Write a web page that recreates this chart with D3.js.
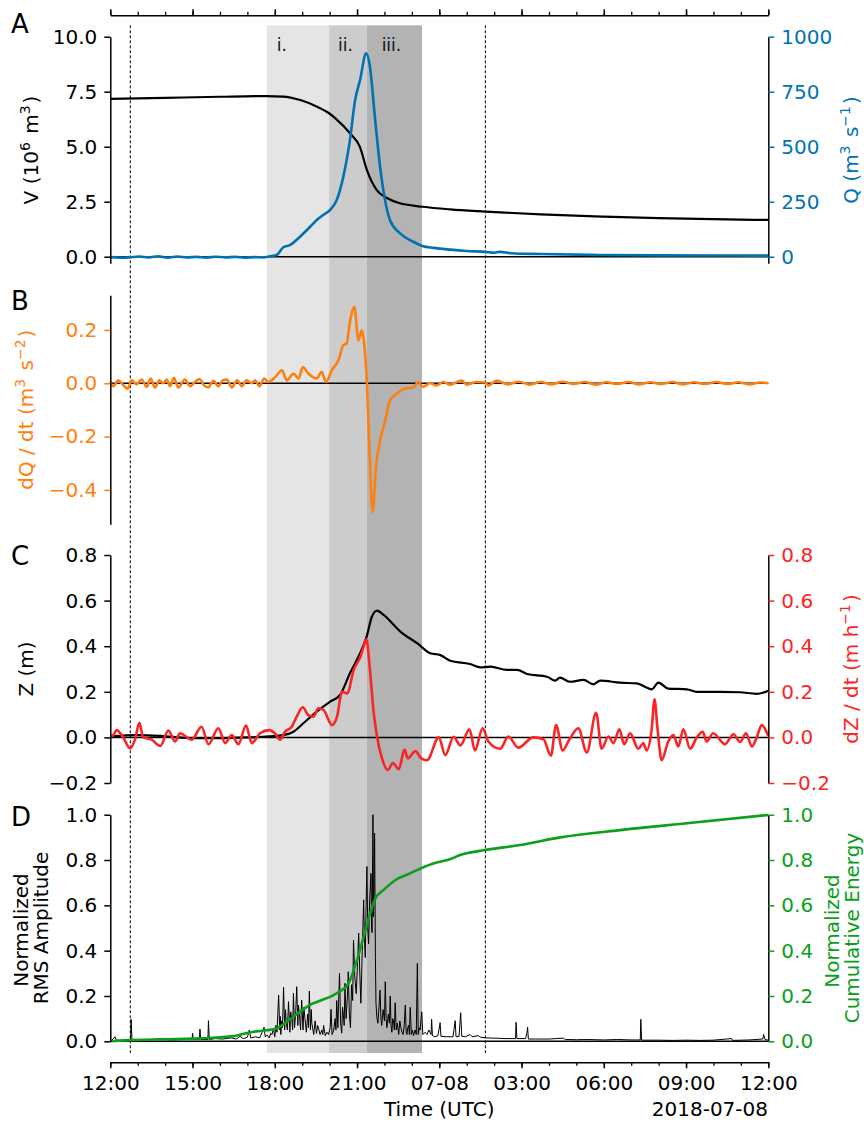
<!DOCTYPE html>
<html>
<head>
<meta charset="utf-8">
<script src="https://cdn.jsdelivr.net/npm/d3@7"></script>
<style>
  body { margin: 0; background: #fff; }
  svg { display: block; font-family: "DejaVu Sans", sans-serif; }
</style>
</head>
<body>
<script>
// hours after 2018-07-07 12:00 UTC, value
const volume = [[0,7.17],[2,7.22],[4,7.27],[5.7,7.3],[6.3,7.28],[6.93,7.12],[7.54,6.82],[7.98,6.52],[8.2,6.3],
  [8.75,5.6],[9.1,5.0],[9.36,3.94],[9.72,3.03],[10.09,2.67],[10.5,2.45],[11.4,2.27],[12.4,2.15],[13.7,2.05],
  [15.7,1.92],[18,1.82],[20,1.75],[24,1.67]];
const discharge = [[0,-2],[0.35,-4],[0.7,-3],[1.05,1],[1.4,-3],[1.75,2],[2.1,-4],[2.45,1],[2.8,-3],[3.15,-1],
  [3.5,-4],[3.85,0],[4.2,-3],[4.55,-1],[4.9,-4],[5.25,-2],[5.58,-3],[5.82,2],[6.07,8],[6.31,43],[6.55,53],
  [6.92,91],[7.29,136],[7.53,167],[7.77,190],[8.01,212],[8.26,258],[8.5,364],[8.74,530],[8.93,712],[9.11,803],
  [9.33,924],[9.47,864],[9.65,636],[9.84,409],[10.02,258],[10.2,167],[10.57,106],[11.05,68],[11.38,49],
  [11.79,40],[12.4,32],[13.0,26],[13.68,22],[14.0,18],[14.2,22],[14.6,16],[15.7,12],[17.8,8],[20,6],[24,5]];
const dQdt = [[0,0.004],[0.11,-0.011],[0.29,0.011],[0.45,-0.004],[0.63,-0.021],[0.78,0.011],[0.96,-0.004],
  [1.14,0.014],[1.33,-0.014],[1.47,0.018],[1.63,-0.016],[1.79,0.011],[1.93,0],[2.06,0.014],[2.18,-0.011],
  [2.32,0.021],[2.48,-0.016],[2.72,0.014],[2.91,-0.011],[3.09,0.005],[3.25,0.016],[3.42,-0.008],[3.57,-0.016],
  [3.76,0.009],[3.94,-0.011],[4.1,0.011],[4.25,0.014],[4.43,-0.016],[4.63,0.011],[4.79,-0.011],[4.97,0.011],
  [5.16,0],[5.28,0.011],[5.44,-0.011],[5.61,0.018],[5.76,0.005],[6.02,0.024],[6.26,0.049],[6.44,0.011],
  [6.68,0.036],[6.87,0.018],[7.02,0.061],[7.23,0.036],[7.53,0.018],[7.71,0.043],[7.87,0.005],[8.08,0.049],
  [8.32,0.086],[8.5,0.143],[8.62,0.149],[8.74,0.23],[8.9,0.286],[9.05,0.161],[9.17,0.199],[9.26,0.149],
  [9.36,0],[9.45,-0.239],[9.57,-0.483],[9.69,-0.314],[9.84,-0.214],[10.03,-0.139],[10.2,-0.064],[10.45,-0.039],
  [10.75,-0.02],[11.05,-0.016],[11.24,0.005],[11.4,-0.014],[11.66,0],[11.9,-0.008],[12.15,0.005],[12.39,-0.005],
  [12.63,0.004],[12.82,0.01],[13.0,-0.005],[13.36,0.005],[13.67,0.003],[13.79,-0.008],[14.09,0.01],[14.5,-0.004],
  [14.9,0.006],[15.3,-0.005],[15.7,0.005],[16.1,-0.004],[16.5,0.006],[16.9,-0.003],[17.3,0.005],[17.7,-0.005],
  [18.1,0.004],[18.5,-0.003],[18.9,0.005],[19.3,-0.004],[19.7,0.004],[20.1,-0.003],[20.5,0.005],[20.9,-0.004],
  [21.3,0.004],[21.7,-0.003],[22.1,0.005],[22.5,-0.003],[22.9,0.004],[23.3,-0.004],[23.7,0.003],[24,0]];
const stage = [[0,0.005],[1.0,0.01],[2.0,0.005],[3,-0.003],[4,-0.003],[5,0.0],[5.8,0.005],[6.3,0.01],
  [6.68,0.025],[7.04,0.062],[7.53,0.113],[8.02,0.157],[8.38,0.186],[8.74,0.281],[9.11,0.369],[9.35,0.442],
  [9.54,0.529],[9.73,0.556],[9.97,0.537],[10.58,0.464],[11.19,0.413],[11.67,0.369],[12.04,0.361],[12.4,0.336],
  [13.12,0.322],[13.5,0.307],[13.86,0.31],[14.47,0.296],[14.84,0.296],[15.2,0.278],[15.93,0.266],[16.23,0.249],
  [16.4,0.262],[16.77,0.244],[17.26,0.252],[17.62,0.233],[17.87,0.249],[18.6,0.24],[19.2,0.237],[19.75,0.211],
  [19.99,0.24],[20.35,0.214],[21.03,0.211],[21.39,0.2],[22.24,0.2],[22.97,0.198],[23.58,0.191],[24,0.205]];
const dZdt = [[0,0.005],[0.11,0.01],[0.23,0.032],[0.47,0],[0.72,-0.048],[0.9,-0.01],[1.06,0.064],[1.2,0],
  [1.51,-0.01],[1.82,-0.038],[2.12,0.03],[2.36,-0.018],[2.54,0.018],[2.97,-0.01],[3.33,0.047],[3.58,-0.03],
  [3.94,0.04],[4.19,-0.025],[4.43,0.01],[4.67,-0.03],[4.95,0.052],[5.16,-0.025],[5.46,0.018],[5.8,0.032],
  [6.0,0.018],[6.19,-0.01],[6.37,0.025],[6.62,0.047],[6.8,0.091],[7.02,0.132],[7.22,0.098],[7.41,0.091],
  [7.59,0.128],[7.78,0.12],[8.09,0.054],[8.27,0.091],[8.45,0.2],[8.64,0.193],[8.88,0.296],[9.12,0.354],
  [9.24,0.398],[9.34,0.43],[9.46,0.31],[9.61,0.105],[9.73,0.003],[9.91,-0.092],[10.12,-0.143],[10.31,-0.112],
  [10.52,-0.14],[10.73,-0.053],[10.85,-0.092],[11.13,-0.06],[11.34,-0.092],[11.55,-0.1],[11.98,0],[12.22,-0.078],
  [12.52,0.003],[12.77,-0.035],[13.1,0.036],[13.3,-0.057],[13.58,0.04],[13.79,-0.018],[14.22,-0.05],[14.52,0.004],
  [14.88,-0.045],[15.43,0],[15.8,-0.008],[16.07,-0.08],[16.26,0.054],[16.5,-0.057],[16.74,-0.01],[17.07,0.04],
  [17.38,-0.066],[17.72,0.108],[17.92,-0.05],[18.17,0.004],[18.35,-0.025],[18.57,0.036],[18.74,-0.03],
  [18.96,0.018],[19.26,-0.05],[19.44,-0.025],[19.56,-0.057],[19.75,0.04],[19.85,0.167],[19.95,0.05],
  [20.11,-0.1],[20.35,-0.018],[20.54,0.01],[20.72,-0.04],[20.9,0.036],[21.15,-0.05],[21.39,0],[21.61,0.025],
  [21.75,-0.018],[21.99,0.018],[22.42,-0.03],[22.73,0.014],[22.97,-0.02],[23.19,0.018],[23.4,-0.04],[23.58,0],
  [23.76,0.054],[24,0.006]];
const rmsAmp = [[0,0],[0.1,0.01],[0.17,0.02],[0.22,0.005],[0.5,0.005],[0.74,0.005],[0.76,0.097],[0.79,0.005],
  [1.2,0.005],[1.76,0.01],[2.2,0.006],[2.6,0.008],[2.98,0.008],[3.0,0.035],[3.03,0.008],[3.25,0.008],[3.27,0.054],
  [3.3,0.008],[3.56,0.008],[3.58,0.091],[3.61,0.008],[3.82,0.012],[4.1,0.01],[4.4,0.015],[4.6,0.01],[4.73,0.022],
  [4.85,0.012],[5.0,0.018],[5.07,0.05],[5.12,0.015],[5.3,0.02],[5.45,0.015],[5.61,0.062],[5.65,0.02],[5.71,0.028],
  [5.8,0.015],[5.85,0.035],[5.9,0.03],[5.95,0.057],[6.0,0.02],[6.04,0.07],[6.08,0.04],[6.11,0.12],[6.14,0.204],
  [6.18,0.05],[6.2,0.11],[6.22,0.03],[6.25,0.09],[6.28,0.06],[6.32,0.238],[6.36,0.05],[6.39,0.14],[6.42,0.08],
  [6.46,0.05],[6.5,0.175],[6.55,0.04],[6.58,0.13],[6.62,0.1],[6.65,0.05],[6.68,0.212],[6.72,0.06],[6.76,0.12],
  [6.8,0.241],[6.84,0.07],[6.86,0.16],[6.89,0.13],[6.94,0.05],[6.98,0.182],[7.03,0.05],[7.06,0.15],[7.1,0.1],
  [7.15,0.04],[7.2,0.12],[7.23,0.06],[7.26,0.222],[7.3,0.05],[7.33,0.14],[7.35,0.08],[7.42,0.03],[7.47,0.09],
  [7.52,0.035],[7.56,0.07],[7.59,0.06],[7.65,0.03],[7.72,0.05],[7.75,0.03],[7.78,0.07],[7.84,0.025],[7.9,0.04],
  [7.96,0.03],[8.02,0.06],[8.05,0.141],[8.09,0.03],[8.15,0.05],[8.2,0.1],[8.23,0.05],[8.26,0.18],[8.3,0.06],
  [8.36,0.3],[8.4,0.08],[8.44,0.036],[8.47,0.15],[8.5,0.12],[8.53,0.07],[8.56,0.256],[8.6,0.1],[8.65,0.2],
  [8.68,0.307],[8.72,0.12],[8.76,0.06],[8.8,0.25],[8.84,0.18],[8.87,0.447],[8.92,0.28],[8.97,0.21],[9.02,0.35],
  [9.06,0.477],[9.1,0.3],[9.14,0.168],[9.19,0.4],[9.24,0.624],[9.27,0.45],[9.3,0.37],[9.33,0.6],[9.36,0.771],
  [9.39,0.5],[9.42,0.43],[9.46,0.62],[9.51,0.741],[9.53,0.5],[9.55,0.48],[9.58,1.0],[9.6,0.55],[9.62,0.7],
  [9.64,0.918],[9.67,0.37],[9.69,0.17],[9.72,0.108],[9.76,0.08],[9.8,0.15],[9.84,0.226],[9.87,0.1],[9.9,0.07],
  [9.95,0.14],[10.0,0.09],[10.03,0.263],[10.06,0.1],[10.09,0.06],[10.14,0.12],[10.18,0.08],[10.21,0.2],
  [10.24,0.07],[10.27,0.04],[10.3,0.1],[10.33,0.09],[10.36,0.05],[10.39,0.17],[10.43,0.05],[10.47,0.08],
  [10.52,0.03],[10.56,0.09],[10.6,0.06],[10.64,0.04],[10.68,0.03],[10.72,0.07],[10.76,0.16],[10.79,0.04],
  [10.82,0.03],[10.85,0.06],[10.88,0.07],[10.91,0.03],[10.94,0.15],[10.98,0.03],[11.02,0.05],[11.06,0.025],
  [11.12,0.05],[11.16,0.03],[11.2,0.344],[11.23,0.03],[11.27,0.06],[11.3,0.05],[11.36,0.13],[11.4,0.03],
  [11.48,0.04],[11.55,0.03],[11.62,0.05],[11.7,0.03],[11.72,0.097],[11.75,0.025],[11.84,0.02],[11.95,0.025],
  [12.03,0.082],[12.06,0.022],[12.27,0.02],[12.5,0.02],[12.58,0.091],[12.61,0.02],[12.72,0.022],[12.78,0.126],
  [12.82,0.022],[12.95,0.02],[13.12,0.03],[13.2,0.02],[13.42,0.025],[13.5,0.018],[13.73,0.015],[14.0,0.014],
  [14.4,0.012],[14.78,0.012],[14.8,0.084],[14.83,0.012],[15.15,0.012],[15.2,0.04],[15.22,0.062],[15.25,0.01],
  [15.5,0.01],[16.0,0.01],[16.52,0.014],[16.6,0.008],[17.0,0.007],[17.38,0.008],[18.0,0.006],[18.5,0.008],
  [19.0,0.006],[19.33,0.006],[19.35,0.097],[19.38,0.005],[20,0.005],[20.5,0.004],[21,0.005],[21.5,0.004],
  [22,0.005],[22.66,0.012],[22.7,0.004],[23.3,0.006],[23.8,0.01],[23.83,0.03],[23.88,0.008],[24,0.005]];
const cumEnergy = [[0,0],[0.72,0.005],[3.3,0.013],[4.5,0.023],[5.22,0.042],[5.71,0.049],[6.08,0.057],[6.44,0.086],
  [6.92,0.131],[7.35,0.165],[7.65,0.179],[8.26,0.212],[8.69,0.256],[9.0,0.359],[9.24,0.462],[9.48,0.565],
  [9.67,0.631],[9.97,0.668],[10.4,0.712],[10.93,0.741],[11.37,0.766],[11.78,0.785],[12.39,0.803],[12.76,0.822],
  [13.67,0.844],[14.95,0.866],[16.41,0.9],[18.6,0.932],[21.03,0.962],[24,0.999]];

const phaseNames = ["i.", "ii.", "iii."];
const phaseBounds = [5.71, 7.98, 9.35, 11.37];
const eventHours = [0.73, 13.68];
const vTicks = [0, 2.5, 5, 7.5, 10];
const qTicks = [0, 250, 500, 750, 1000];
const dqTicks = [-0.4, -0.2, 0, 0.2];
const zTicks = [-0.2, 0, 0.2, 0.4, 0.6, 0.8];
const dTicks = [0, 0.2, 0.4, 0.6, 0.8, 1.0];

// styles
const blue = "#0072b2", orange = "#ff7f0e", red = "#fb2424", green = "#0aa01a";
const phaseFill = ["#e5e5e5", "#cccccc", "#b3b3b3"];
const phaseLabelDx = [10, 9, 15];

const W = 864, H = 1122;
const t0 = Date.UTC(2018, 6, 7, 12);
const T = h => new Date(t0 + h * 3600000);
const x = d3.scaleUtc().domain([T(0), T(24)]).range([110.3, 768.3]);

const svg = d3.select("body").append("svg").attr("width", W).attr("height", H);
svg.append("rect").attr("width", W).attr("height", H).attr("fill", "#fff");

// shaded phases
svg.selectAll(".phase").data(phaseNames).enter().append("rect")
  .attr("x", (d, i) => x(T(phaseBounds[i])))
  .attr("width", (d, i) => x(T(phaseBounds[i + 1])) - x(T(phaseBounds[i])))
  .attr("y", 25.3).attr("height", 1053 - 25.3)
  .attr("fill", (d, i) => phaseFill[i]);
svg.selectAll(".phlab").data(phaseNames).enter().append("text")
  .attr("x", (d, i) => x(T(phaseBounds[i])) + phaseLabelDx[i])
  .attr("y", 50.5).attr("font-size", 17).attr("fill", "#111").text(d => d);

// event lines
svg.selectAll(".ev").data(eventHours).enter().append("line")
  .attr("x1", d => x(T(d))).attr("x2", d => x(T(d)))
  .attr("y1", 25.3).attr("y2", 1053)
  .attr("stroke", "#000").attr("stroke-width", 1).attr("stroke-dasharray", "3,2");

const yV = d3.scaleLinear().domain([-0.3, 10]).range([263.3, 36.7]);
const yQ = d3.scaleLinear().domain([-30, 1000]).range([263.3, 36.7]);
const yB = d3.scaleLinear().domain([-0.529, 0.33]).range([524.3, 295.3]);
const yZ = d3.scaleLinear().domain([-0.2, 0.8]).range([783, 555]);
const yD = d3.scaleLinear().domain([0, 1]).range([1041.3, 814.7]);

function zeroLine(y) {
  svg.append("line").attr("x1", 110.3).attr("x2", 768.3)
    .attr("y1", y(0)).attr("y2", y(0)).attr("stroke", "#000").attr("stroke-width", 1.5);
}
function drawLine(data, y, color, width, curve) {
  svg.append("path").datum(data)
    .attr("fill", "none").attr("stroke", color).attr("stroke-width", width)
    .attr("stroke-linejoin", "round")
    .attr("d", d3.line().x(d => x(T(d[0]))).y(d => y(d[1])).curve(curve || d3.curveMonotoneX));
}
function yAxis(axis, tx, color) {
  const g = svg.append("g").attr("transform", `translate(${tx},0)`).call(axis);
  g.select(".domain").attr("stroke", "#000").attr("stroke-width", 1.5);
  g.selectAll(".tick line").attr("stroke", color).attr("stroke-width", 1.5);
  g.selectAll(".tick text").attr("fill", color).attr("font-size", 20)
    .attr("font-family", "DejaVu Sans");
  return g;
}
function yLabel(parts, cx, cy, color) {
  const t = svg.append("text").attr("transform", `translate(${cx},${cy}) rotate(-90)`)
    .attr("text-anchor", "middle").attr("font-size", 20).attr("fill", color);
  parts.forEach(p => {
    if (p[1]) {
      t.append("tspan").attr("dy", -8).attr("font-size", 14).text(p[0]);
      t.append("tspan").attr("dy", 8).text("\u200a");
    } else t.append("tspan").text(p[0]);
  });
}
function letter(s, yb) {
  svg.append("text").attr("x", 11).attr("y", yb).attr("font-size", 26).attr("fill", "#000").text(s);
}

// Panel A
zeroLine(yV);
drawLine(volume, yV, "#000", 2.2);
drawLine(discharge, yQ, blue, 2.6);
yAxis(d3.axisLeft(yV).tickValues(vTicks).tickFormat(d3.format(".1f")).tickSize(6).tickSizeOuter(0).tickPadding(7), 110.3, "#000");
yAxis(d3.axisRight(yQ).tickValues(qTicks).tickFormat(d3.format("d")).tickSize(6).tickSizeOuter(0).tickPadding(7), 768.3, blue);
yLabel([["V (10"], ["6", 1], [" m"], ["3", 1], [")"]], 38, 150, "#000");
yLabel([["Q (m"], ["3", 1], [" s"], ["\u22121", 1], [")"]], 858, 150, blue);
letter("A", 33);

// Panel B
zeroLine(yB);
drawLine(dQdt, yB, orange, 2.6);
yAxis(d3.axisLeft(yB).tickValues(dqTicks).tickFormat(d3.format(".1f")).tickSize(6).tickSizeOuter(0).tickPadding(7), 110.3, orange);
yLabel([["dQ / dt (m"], ["3", 1], [" s"], ["\u22122", 1], [")"]], 33, 409.7, orange);
letter("B", 310);

// Panel C
zeroLine(yZ);
drawLine(stage, yZ, "#000", 2.2);
drawLine(dZdt, yZ, red, 2.6);
yAxis(d3.axisLeft(yZ).tickValues(zTicks).tickFormat(d3.format(".1f")).tickSize(6).tickSizeOuter(0).tickPadding(7), 110.3, "#000");
yAxis(d3.axisRight(yZ).tickValues(zTicks).tickFormat(d3.format(".1f")).tickSize(6).tickSizeOuter(0).tickPadding(7), 768.3, red);
yLabel([["Z (m)"]], 33, 669, "#000");
yLabel([["dZ / dt (m h"], ["\u22121", 1], [")"]], 858, 669, red);
letter("C", 565);

// Panel D
zeroLine(yD);
drawLine(rmsAmp, yD, "#000", 1, d3.curveLinear);
drawLine(cumEnergy, yD, green, 2.6);
yAxis(d3.axisLeft(yD).tickValues(dTicks).tickFormat(d3.format(".1f")).tickSize(6).tickSizeOuter(0).tickPadding(7), 110.3, "#000");
yAxis(d3.axisRight(yD).tickValues(dTicks).tickFormat(d3.format(".1f")).tickSize(6).tickSizeOuter(0).tickPadding(7), 768.3, green);
yLabel([["Normalized"]], 28, 930, "#000");
yLabel([["RMS Amplitude"]], 48, 928, "#000");
yLabel([["Normalized"]], 839, 931, green);
yLabel([["Cumulative Energy"]], 859, 928, green);
letter("D", 826);

// time axes
const fmt = d => d.getUTCHours() === 0 ? d3.utcFormat("%m-%d")(d) : d3.utcFormat("%H:%M")(d);
function timeAxis(axisFn, ty, labels) {
  const minor = svg.append("g").attr("transform", `translate(0,${ty})`)
    .call(axisFn(x).ticks(d3.utcHour.every(1)).tickSize(3.5).tickSizeOuter(0).tickFormat(""));
  minor.select(".domain").attr("stroke", "#000").attr("stroke-width", 1.5);
  minor.selectAll(".tick line").attr("stroke-width", 1.3);
  const major = svg.append("g").attr("transform", `translate(0,${ty})`)
    .call(axisFn(x).ticks(d3.utcHour.every(3)).tickSize(6).tickSizeOuter(0).tickPadding(8)
      .tickFormat(labels ? fmt : ""));
  major.select(".domain").remove();
  major.selectAll(".tick line").attr("stroke-width", 1.5);
  major.selectAll(".tick text").attr("font-size", 20).attr("font-family", "DejaVu Sans").attr("fill", "#000");
}
timeAxis(d3.axisTop, 15.3, false);
timeAxis(d3.axisBottom, 1062.3, true);

svg.append("text").attr("x", 439.3).attr("y", 1116).attr("text-anchor", "middle")
  .attr("font-size", 20).text("Time (UTC)");
svg.append("text").attr("x", 768).attr("y", 1116).attr("text-anchor", "end")
  .attr("font-size", 20).text("2018-07-08");
</script>
</body>
</html>
